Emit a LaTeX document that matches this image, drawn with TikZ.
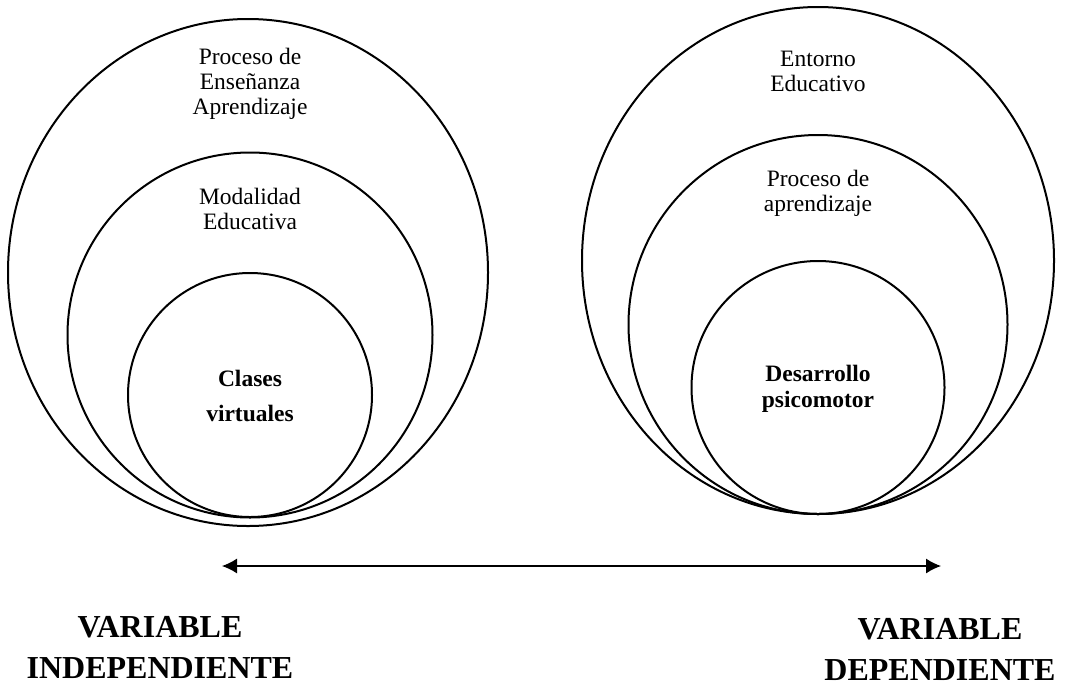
\documentclass[tikz,border=0pt]{standalone}
\usepackage{fontspec}
\setmainfont{Liberation Serif}
\usepackage{tikz}
\usetikzlibrary{shapes.geometric, arrows.meta, positioning}
\tikzstyle{ring} = [draw, circle, line width=2pt, inner sep=0pt]
\tikzstyle{oval} = [draw, ellipse, line width=2pt, inner sep=0pt]
\tikzstyle{tag} = [align=center, font=\fontsize{23.5}{25}\selectfont]
\tikzstyle{core} = [align=center, font=\bfseries\fontsize{23.5}{26}\selectfont]
\tikzstyle{title} = [align=center, font=\bfseries\fontsize{32}{41}\selectfont]
\tikzstyle{line} = [draw, {Latex[length=15pt,width=15pt]}-{Latex[length=15pt,width=15pt]}, line width=1.2pt]

\begin{document}
\begin{tikzpicture}[x=1pt, y=-1pt]
\useasboundingbox (0,0) rectangle (1065,686);

% independent variable
\node [oval, minimum width=480pt, minimum height=507pt] (ensenanza) at (248,272.5) {};
\node [ring, minimum size=365pt] (modalidad) at (250,335) {};
\node [ring, minimum size=244pt] (clases) at (250,395) {};

\node [tag] (ensenanzaTxt) at (250,83.5) {Proceso de\\Enseñanza\\Aprendizaje};
\node [tag] (modalidadTxt) at (250,208.5) {Modalidad\\Educativa};
\node [core, font=\bfseries\fontsize{23.5}{35}\selectfont] (clasesTxt) at (250,395.5) {Clases\\virtuales};

% dependent variable
\node [oval, minimum width=472pt, minimum height=507pt] (entorno) at (818,260.5) {};
\node [ring, minimum size=379pt] (aprendizaje) at (818,324.5) {};
\node [ring, minimum size=253pt] (desarrollo) at (818,387.5) {};

\node [tag] (entornoTxt) at (818,71) {Entorno\\Educativo};
\node [tag] (aprendizajeTxt) at (818,193.5) {Proceso de\\aprendizaje};
\node [core] (desarrolloTxt) at (818,389) {Desarrollo\\psicomotor};

% relation
\coordinate (izq) at (222,566);
\coordinate (der) at (941,566);
\draw [line] (izq) -- (der);

\node [title] (indep) at (160,647.5) {VARIABLE\\INDEPENDIENTE};
\node [title] (dep) at (940,649) {VARIABLE\\DEPENDIENTE};

\end{tikzpicture}
\end{document}
